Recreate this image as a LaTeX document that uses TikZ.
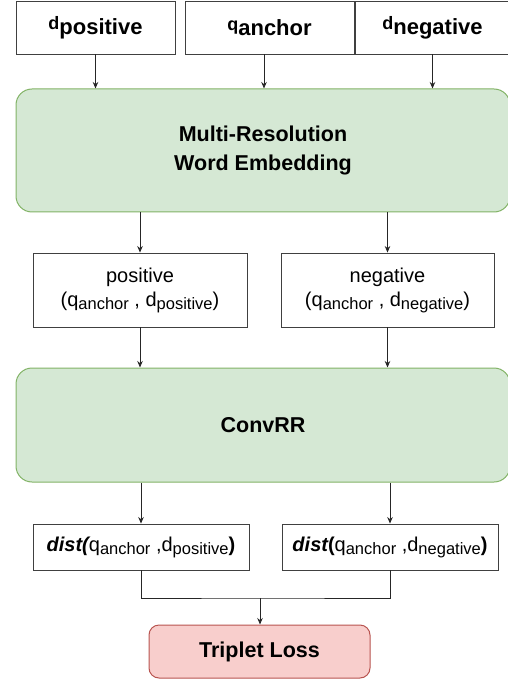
\documentclass[tikz,border=0pt]{standalone}
\usepackage{fontspec}
\setmainfont{Liberation Sans}
\usetikzlibrary{arrows.meta,positioning}

\definecolor{stagefill}{HTML}{D5E8D4}
\definecolor{stageline}{HTML}{82B366}
\definecolor{lossfill}{HTML}{F8CECC}
\definecolor{lossline}{HTML}{B85450}

% lowered subscript as in the boxes
\newcommand{\lowsub}[1]{\raisebox{-3pt}{\fontsize{16.5}{16.5}\selectfont #1}}
% input label: small letter, large lowered name
\newcommand{\inlabel}[2]{{\fontsize{18}{18}\selectfont #1}\raisebox{-5pt}{\fontsize{22}{22}\selectfont #2}}

\begin{document}
\begin{tikzpicture}
	[
	x=1pt,y=-1pt,
	font=\fontsize{20}{24}\selectfont,
	box/.style={draw=black!75,fill=white,line width=0.9pt,inner sep=0pt,align=center},
	stage/.style={draw=stageline,fill=stagefill,line width=1pt,rounded corners=16pt,inner sep=0pt,align=center,
	              font=\fontsize{21.5}{29}\selectfont\bfseries},
	loss/.style={draw=lossline,fill=lossfill,line width=1pt,rounded corners=10pt,inner sep=0pt,
	             font=\fontsize{21.5}{26}\selectfont\bfseries},
	link/.style={line width=0.8pt,draw=black!85},
	arrow/.style={link,-{Stealth[length=6.5pt,width=5.5pt]}}
	]
		\useasboundingbox (0,0) rectangle (507,692);

		% inputs
		\node[box,minimum width=159pt,minimum height=53pt,font=\bfseries] (dpos) at ( 95.5, 27.5) {\inlabel{d}{positive}};
		\node[box,minimum width=169pt,minimum height=53pt,font=\bfseries] (qanc) at (269.5, 27.5) {\inlabel{q}{anchor}};
		\node[box,minimum width=155pt,minimum height=53pt,font=\bfseries] (dneg) at (432.5, 27.5) {\inlabel{d}{negative}};

		% stages
		\node[stage,minimum width=494pt,minimum height=123pt] (mre) at (263,150.5) {Multi-Resolution\\Word Embedding};
		\node[box,minimum width=214pt,minimum height=74pt] (pos) at (140,290) {positive\\(q\lowsub{anchor} , d\lowsub{positive})};
		\node[box,minimum width=213pt,minimum height=74pt] (neg) at (387.5,290) {negative\\(q\lowsub{anchor} , d\lowsub{negative})};
		\node[stage,minimum width=494pt,minimum height=114pt] (conv) at (263,425) {ConvRR};
		\node[box,minimum width=216pt,minimum height=46pt] (dpo) at (141,547) {{\bfseries\itshape dist(}q\lowsub{anchor} ,d\lowsub{positive}{\bfseries )}};
		\node[box,minimum width=216pt,minimum height=46pt] (dne) at (390,547) {{\bfseries\itshape dist}{\bfseries (}q\lowsub{anchor} ,d\lowsub{negative}{\bfseries )}};
		\node[loss,minimum width=221pt,minimum height=53pt] (tl) at (259.5,651.5) {Triplet Loss};
		\coordinate (join) at (260,598);

		% connectors
		\draw[arrow] (dpos.south) -- (dpos.south |- mre.north);
		\draw[arrow] ([xshift=-5.5pt]qanc.south) -- ([xshift=-5.5pt]qanc.south |- mre.north);
		\draw[arrow] (dneg.south) -- (dneg.south |- mre.north);
		\foreach \pair in {pos,neg} {
			\draw[arrow] (\pair.north |- mre.south) -- (\pair.north);
			\draw[arrow] (\pair.south) -- (\pair.south |- conv.north);
		}
		\foreach \dd in {dpo,dne} \draw[arrow] (\dd.north |- conv.south) -- (\dd.north);
		\draw[link] (dpo.south) |- (join) -| (dne.south);
		\draw[arrow] (join) -- (join |- tl.north);

	\end{tikzpicture}
\end{document}
